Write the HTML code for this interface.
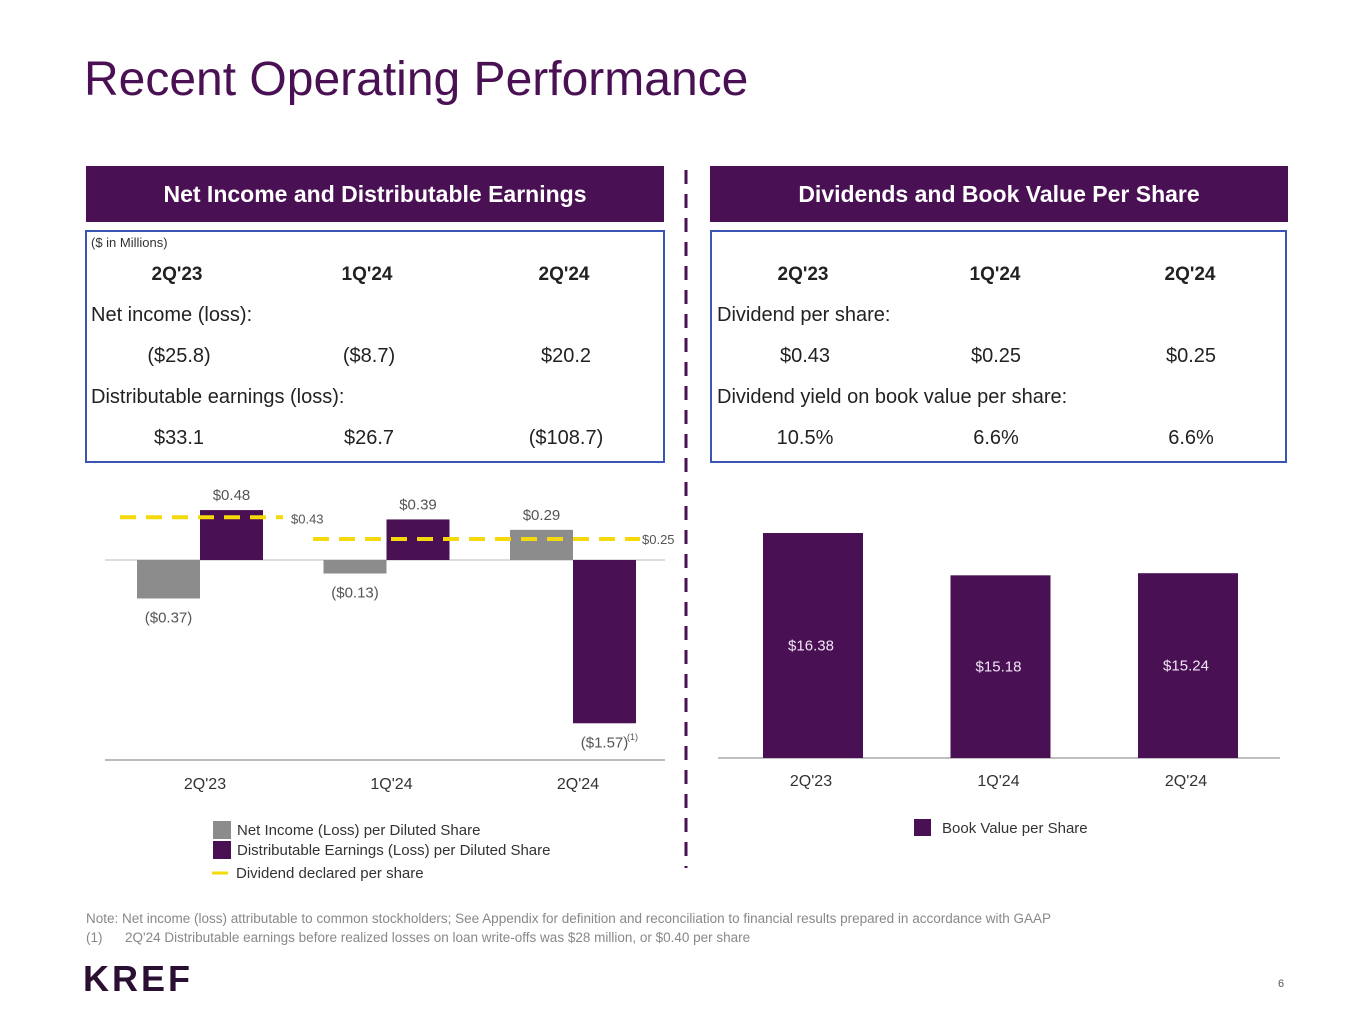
<!DOCTYPE html>
<html><head><meta charset="utf-8"><style>
body{margin:0;width:1365px;height:1024px;background:#fff;position:relative;overflow:hidden;font-family:"Liberation Sans",sans-serif;color:#222}
.a{position:absolute;white-space:nowrap}
.c{transform:translateX(-50%)}
.hdr{position:absolute;background:#4a1054;color:#fff;font-weight:bold;font-size:23px;text-align:center;line-height:56px;height:56px}
.box{position:absolute;border:2px solid #3a55b4;box-sizing:border-box}
.r{font-size:20px}
.b{font-weight:bold;font-size:19px}
</style></head><body>
<div class="a" style="left:84px;top:52px;font-size:48px;color:#4a1054">Recent Operating Performance</div>

<div class="hdr" style="left:86px;top:166px;width:578px">Net Income and Distributable Earnings</div>
<div class="hdr" style="left:710px;top:166px;width:578px">Dividends and Book Value Per Share</div>

<div class="box" style="left:85px;top:230px;width:580px;height:233px"></div>
<div class="box" style="left:710px;top:230px;width:577px;height:233px"></div>

<div class="a" style="left:91px;top:235px;font-size:13px;color:#333">($ in Millions)</div>
<div class="a c b" style="left:177px;top:264px">2Q'23</div>
<div class="a c b" style="left:367px;top:264px">1Q'24</div>
<div class="a c b" style="left:564px;top:264px">2Q'24</div>
<div class="a r" style="left:91px;top:304px">Net income (loss):</div>
<div class="a c r" style="left:179px;top:345px">($25.8)</div>
<div class="a c r" style="left:369px;top:345px">($8.7)</div>
<div class="a c r" style="left:566px;top:345px">$20.2</div>
<div class="a r" style="left:91px;top:386px">Distributable earnings (loss):</div>
<div class="a c r" style="left:179px;top:427px">$33.1</div>
<div class="a c r" style="left:369px;top:427px">$26.7</div>
<div class="a c r" style="left:566px;top:427px">($108.7)</div>

<div class="a c b" style="left:803px;top:264px">2Q'23</div>
<div class="a c b" style="left:995px;top:264px">1Q'24</div>
<div class="a c b" style="left:1190px;top:264px">2Q'24</div>
<div class="a r" style="left:717px;top:304px">Dividend per share:</div>
<div class="a c r" style="left:805px;top:345px">$0.43</div>
<div class="a c r" style="left:996px;top:345px">$0.25</div>
<div class="a c r" style="left:1191px;top:345px">$0.25</div>
<div class="a r" style="left:717px;top:386px">Dividend yield on book value per share:</div>
<div class="a c r" style="left:805px;top:427px">10.5%</div>
<div class="a c r" style="left:996px;top:427px">6.6%</div>
<div class="a c r" style="left:1191px;top:427px">6.6%</div>

<svg class="a" style="left:0;top:0" width="1365" height="1024" id="svg">
<line x1="686" y1="170" x2="686" y2="868" stroke="#4a1054" stroke-width="3" stroke-dasharray="14,10"/>
</svg>

<div class="a" style="left:86px;top:911px;font-size:13.5px;color:#888">Note: Net income (loss) attributable to common stockholders; See Appendix for definition and reconciliation to financial results prepared in accordance with GAAP</div>
<div class="a" style="left:86px;top:930px;font-size:13.5px;color:#888">(1)&nbsp;&nbsp;&nbsp;&nbsp;&nbsp;&nbsp;2Q'24 Distributable earnings before realized losses on loan write-offs was $28 million, or $0.40 per share</div>
<div class="a" style="left:83px;top:958px;font-size:36px;font-weight:bold;color:#2a0f33;letter-spacing:3px">KREF</div>
<div class="a" style="left:1278px;top:978px;font-size:11px;color:#555">6</div>

<script>
const cats=["2Q'23","1Q'24","2Q'24"];
const netIncome=[-0.37,-0.13,0.29];
const distEarn=[0.48,0.39,-1.57];
const dividends=[0.43,0.25,0.25];
const bookValue=[16.38,15.18,15.24];
const niLabels=["($0.37)","($0.13)","$0.29"];
const deLabels=["$0.48","$0.39","($1.57)"];
const divLabels=["$0.43","$0.25"];
const bvLabels=["$16.38","$15.18","$15.24"];

const svg=document.getElementById('svg');
const NS='http://www.w3.org/2000/svg';
function mk(t,attrs,txt){const e=document.createElementNS(NS,t);for(const k in attrs)e.setAttribute(k,attrs[k]);if(txt!==undefined)e.textContent=txt;svg.appendChild(e);return e;}
const z0=560,k=104;
const yL=v=>z0-v*k;
const xL=i=>200+i*186.5;
const bw=63;
let e=mk('line',{x1:105,x2:665,y1:z0,y2:z0,stroke:'#bbb','stroke-width':1});

e=mk('line',{x1:105,x2:665,y1:760,y2:760,stroke:'#bbb','stroke-width':2});

cats.forEach((c,i)=>{
  const cx=xL(i);
  const v1=netIncome[i],v2=distEarn[i];
  e=mk('rect',{x:cx-bw,y:Math.min(yL(v1),z0),width:bw,height:Math.abs(v1*k),fill:'#8c8c8c'});
  
  e=mk('rect',{x:cx,y:Math.min(yL(v2),z0),width:bw,height:Math.abs(v2*k),fill:'#4a1054'});
  
  const ly1=v1<0?yL(v1)+24:yL(v1)-10;
  e=mk('text',{x:cx-bw/2,y:ly1,'text-anchor':'middle','font-size':15,fill:'#555'},niLabels[i]);
  
  const ly2=v2<0?yL(v2)+24:yL(v2)-10;
  e=mk('text',{x:cx+bw/2,y:ly2,'text-anchor':'middle','font-size':15,fill:'#555'},deLabels[i]);
  
  e=mk('text',{x:cx+5,y:789,'text-anchor':'middle','font-size':16,fill:'#333'},c);
  
});
e=mk('text',{x:627,y:740,'font-size':9,fill:'#555'},'(1)');

e=mk('line',{x1:120,x2:283,y1:yL(dividends[0])+2,y2:yL(dividends[0])+2,stroke:'#f5d90a','stroke-width':4,'stroke-dasharray':'16,10'});

e=mk('text',{x:291,y:yL(dividends[0])+8,'font-size':13,fill:'#555'},divLabels[0]);

e=mk('line',{x1:313,x2:640,y1:yL(dividends[1])+5,y2:yL(dividends[1])+5,stroke:'#f5d90a','stroke-width':4,'stroke-dasharray':'16,10'});

e=mk('text',{x:642,y:yL(dividends[1])+10,'font-size':13,fill:'#555'},divLabels[1]);

e=mk('rect',{x:213,y:821,width:18,height:18,fill:'#8c8c8c'});

e=mk('text',{x:237,y:835,'font-size':15,fill:'#333'},'Net Income (Loss) per Diluted Share');

e=mk('rect',{x:213,y:841,width:18,height:18,fill:'#4a1054'});

e=mk('text',{x:237,y:855,'font-size':15,fill:'#333'},'Distributable Earnings (Loss) per Diluted Share');

e=mk('line',{x1:212,x2:228,y1:873,y2:873,stroke:'#f5d90a','stroke-width':3});

e=mk('text',{x:236,y:878,'font-size':15,fill:'#333'},'Dividend declared per share');

const base=758,bmin=10,kr=225/6.38;
const yR=v=>base-(v-bmin)*kr;
const xR=i=>813+i*187.5;
e=mk('line',{x1:718,x2:1280,y1:base,y2:base,stroke:'#aaa','stroke-width':1.5});

cats.forEach((c,i)=>{
  const cx=xR(i),v=bookValue[i];
  e=mk('rect',{x:cx-50,y:yR(v),width:100,height:base-yR(v),fill:'#4a1054'});
  
  e=mk('text',{x:cx-2,y:(yR(v)+base)/2+5,'text-anchor':'middle','font-size':15,fill:'#f0e6f5'},bvLabels[i]);
  
  e=mk('text',{x:cx-2,y:786,'text-anchor':'middle','font-size':16,fill:'#333'},c);
  
});
e=mk('rect',{x:914,y:819,width:17,height:17,fill:'#4a1054'});

e=mk('text',{x:942,y:833,'font-size':15,fill:'#333'},'Book Value per Share');

</script>
</body></html>
